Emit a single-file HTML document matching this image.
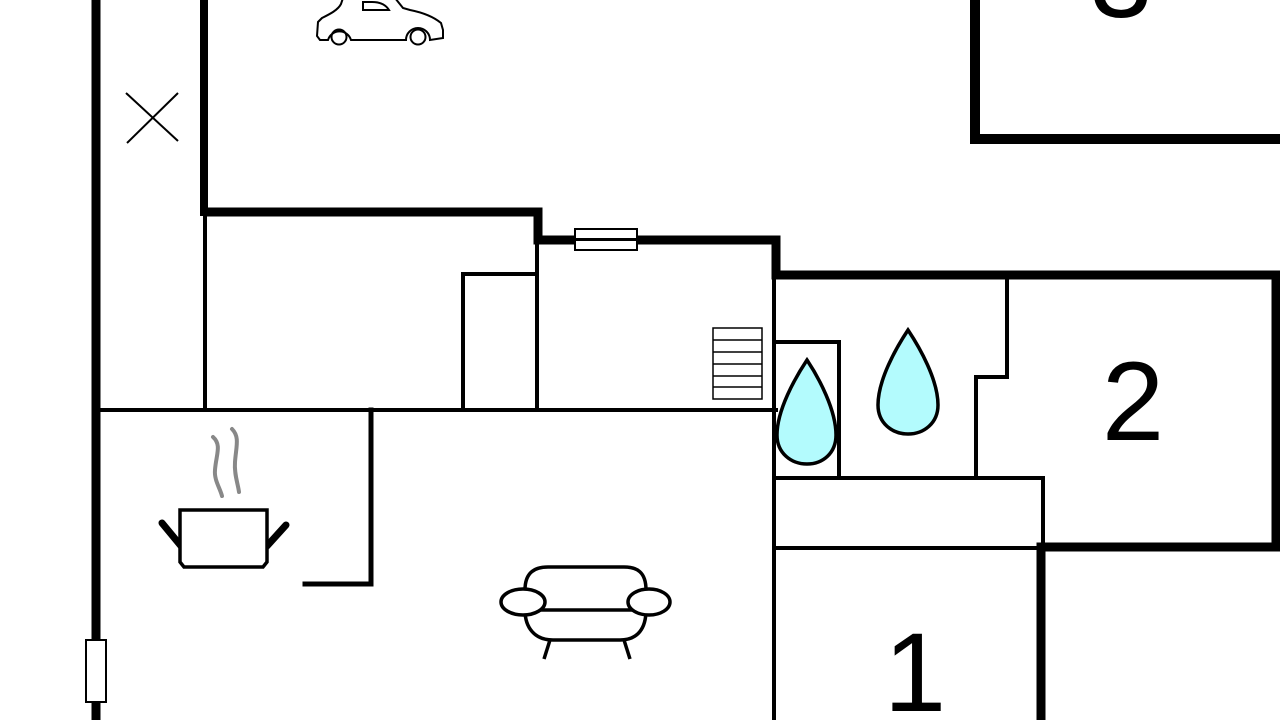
<!DOCTYPE html>
<html><head><meta charset="utf-8"><style>
html,body{margin:0;padding:0;background:#fff;width:1280px;height:720px;overflow:hidden}
svg{display:block}
</style></head><body>
<svg width="1280" height="720" viewBox="0 0 1280 720" xmlns="http://www.w3.org/2000/svg">
<rect width="1280" height="720" fill="#fff"/>
<g stroke="#000" fill="none" stroke-linecap="square">
  <line x1="96" y1="0" x2="96" y2="720" stroke-width="9"/>
  <line x1="204" y1="0" x2="204" y2="212" stroke-width="8"/>
  <polyline points="204,212 538,212 538,240 776,240 776,275 1276,275 1276,547 1041,547 1041,720" stroke-width="9" stroke-linecap="butt"/>
  <polyline points="975,0 975,139 1280,139" stroke-width="10" stroke-linecap="butt"/>
  <g stroke-width="4">
    <line x1="100" y1="410" x2="776" y2="410"/>
    <line x1="205" y1="216" x2="205" y2="410"/>
    <line x1="537" y1="244" x2="537" y2="410"/>
    <polyline points="463,410 463,274 537,274"/>
    <line x1="774" y1="279" x2="774" y2="720"/>
    <polyline points="371,410 371,584 305,584" stroke-width="5"/>
    <polyline points="1007,279 1007,377 976,377 976,478"/>
    <polyline points="776,478 1043,478 1043,547"/>
    <line x1="776" y1="548" x2="1040" y2="548"/>
    <polyline points="776,342 839,342 839,478"/>
  </g>
</g>
<rect x="86" y="640" width="20" height="62" fill="#fff" stroke="#000" stroke-width="2"/>
<rect x="575" y="229" width="62" height="21" fill="#fff" stroke="#000" stroke-width="2"/>
<line x1="575" y1="239.5" x2="637" y2="239.5" stroke="#000" stroke-width="3"/>
<g fill="#fff" stroke="#000" stroke-width="1.5">
  <rect x="713" y="328" width="49" height="71"/>
  <line x1="713" y1="340" x2="762" y2="340"/>
  <line x1="713" y1="352" x2="762" y2="352"/>
  <line x1="713" y1="364" x2="762" y2="364"/>
  <line x1="713" y1="376" x2="762" y2="376"/>
  <line x1="713" y1="387" x2="762" y2="387"/>
</g>
<path d="M807,360 C795,378 777,410 777,435 C777,453 791,464 807,464 C823,464 836,453 836,435 C836,410 819,378 807,360 Z" fill="#b3fbfd" stroke="#000" stroke-width="3.5"/>
<path d="M908,330 C896,348 878,380 878,405 C878,423 892,434 908,434 C924,434 938,423 938,405 C938,380 920,348 908,330 Z" fill="#b3fbfd" stroke="#000" stroke-width="3.5"/>
<g stroke="#000" stroke-width="2">
  <line x1="126" y1="93" x2="178" y2="141"/>
  <line x1="178" y1="93" x2="127" y2="143"/>
</g>
<g fill="none" stroke="#000" stroke-width="2">
  <path d="M328,40 L320,40 L317,36 L318,22 L322,18 C330,14 338,10 341,4 L343,-2 L395,-2 L403,8 L410,10 C425,13 435,18 441,23 L443,30 L443,38 L430,40 A12,12 0 0 0 406,40 L351,40 A12,12 0 0 0 328,40 Z"/>
  <circle cx="339" cy="37" r="7.5"/>
  <circle cx="418" cy="37" r="7.5"/>
  <path d="M363,2 L363,10 L389,10 C386,5 380,2 372,2 Z"/>
</g>
<g stroke="#888" stroke-width="4" fill="none" stroke-linecap="round">
  <path d="M213,437 C222,445 216,455 215,470 C214,480 220,488 222,496"/>
  <path d="M232,429 C240,437 236,447 235,462 C234,474 238,484 239,492"/>
</g>
<path d="M181,546 L162,523" stroke="#000" stroke-width="7" stroke-linecap="round"/>
<path d="M267,546 L286,525" stroke="#000" stroke-width="7" stroke-linecap="round"/>
<path d="M180,510 L267,510 L267,562 L263,567 L184,567 L180,562 Z" fill="#fff" stroke="#000" stroke-width="3.5"/>
<g fill="#fff" stroke="#000" stroke-width="3.5">
  <path d="M525,590 C525,572 535,567 548,567 L624,567 C637,567 646,572 646,590"/>
  <path d="M525,610 C525,628 535,640 553,640 L620,640 C638,640 646,628 646,610"/>
  <line x1="540" y1="610" x2="634" y2="610"/>
  <ellipse cx="523" cy="602" rx="22" ry="13"/>
  <ellipse cx="649" cy="602" rx="21" ry="13"/>
  <line x1="550" y1="640" x2="544" y2="659"/>
  <line x1="624" y1="640" x2="630" y2="659"/>
</g>
<g font-family="Liberation Sans, sans-serif" fill="#000" text-anchor="middle">
  <text x="1133" y="440" font-size="112">2</text>
  <text x="915" y="711" font-size="112">1</text>
  <text x="1121" y="17" font-size="112">3</text>
</g>
</svg>
</body></html>
